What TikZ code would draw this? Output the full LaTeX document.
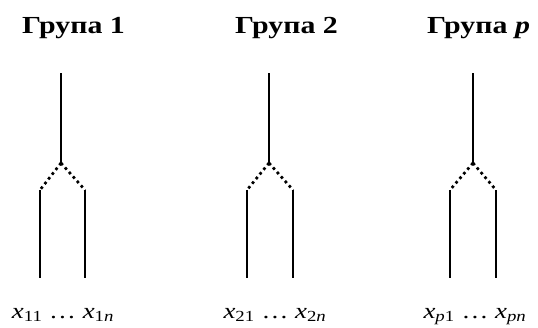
\documentclass[tikz,border=0pt]{standalone}
\usepackage{fontspec}
\usepackage{graphicx}
\setmainfont{Liberation Serif}
\newcommand{\widetext}[1]{\scalebox{1.22}[1]{#1}}
\tikzset{
	titletext/.style={font=\fontsize{24.5}{26}\selectfont\bfseries, anchor=base, inner sep=0pt}
}
\tikzset{
	leaftext/.style={font=\fontsize{22}{24}\selectfont, anchor=base, inner sep=0pt}
}
\begin{document}
\begin{tikzpicture}[x=1pt,y=-1pt]

\tikzset{
    stemline/.style={
        line width=2.4pt
    },
    forkline/.style={
        line width=2.7pt,
        dash pattern=on 2.7pt off 3.3pt
    }
}

\useasboundingbox (0,0) rectangle (538,327);

% group 1
\node[titletext] (g1) at (73.5,33) {\widetext{Група 1}};
\coordinate (g1top) at (61,73);
\coordinate (g1fork) at (61,163);
\coordinate (g1a) at (40,190);
\coordinate (g1b) at (85,190);
\coordinate (g1a end) at (40,278);
\coordinate (g1b end) at (85,278);
\node[leaftext] (l1) at (63,318.5) {\widetext{\textit{x}\textsubscript{11} … \textit{x}\textsubscript{1\textit{n}}}};
\draw[stemline] (g1top) -- (g1fork);
\draw[forkline] (g1fork) -- (g1a);
\draw[forkline] (g1fork) -- (g1b);
\draw[stemline] (g1a) -- (g1a end);
\draw[stemline] (g1b) -- (g1b end);

% group 2
\node[titletext] (g2) at (286.5,33) {\widetext{Група 2}};
\coordinate (g2top) at (269,73);
\coordinate (g2fork) at (269,163);
\coordinate (g2a) at (247,190);
\coordinate (g2b) at (293,190);
\coordinate (g2a end) at (247,278);
\coordinate (g2b end) at (293,278);
\node[leaftext] (l2) at (275,318.5) {\widetext{\textit{x}\textsubscript{21} … \textit{x}\textsubscript{2\textit{n}}}};
\draw[stemline] (g2top) -- (g2fork);
\draw[forkline] (g2fork) -- (g2a);
\draw[forkline] (g2fork) -- (g2b);
\draw[stemline] (g2a) -- (g2a end);
\draw[stemline] (g2b) -- (g2b end);

% group p
\node[titletext] (gp) at (478.5,33) {\widetext{Група \textit{p}}};
\coordinate (gptop) at (473,73);
\coordinate (gpfork) at (473,163);
\coordinate (gpa) at (450,190);
\coordinate (gpb) at (496,190);
\coordinate (gpa end) at (450,278);
\coordinate (gpb end) at (496,278);
\node[leaftext] (lp) at (475,318.5) {\widetext{\textit{x}\textsubscript{\textit{p}1} … \textit{x}\textsubscript{\textit{pn}}}};
\draw[stemline] (gptop) -- (gpfork);
\draw[forkline] (gpfork) -- (gpa);
\draw[forkline] (gpfork) -- (gpb);
\draw[stemline] (gpa) -- (gpa end);
\draw[stemline] (gpb) -- (gpb end);
\end{tikzpicture}
\end{document}
